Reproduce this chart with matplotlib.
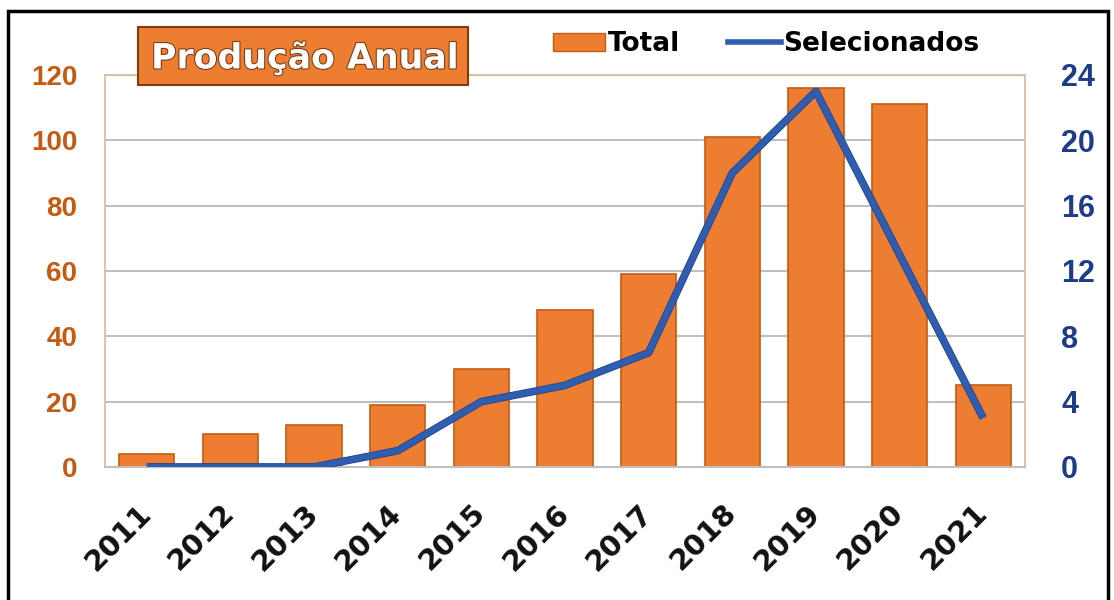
import matplotlib.pyplot as plt
import matplotlib.patheffects as pe
from matplotlib.patches import Patch, Rectangle
from matplotlib.lines import Line2D
import numpy as np

# annual production data
anos = ["2011", "2012", "2013", "2014", "2015", "2016", "2017", "2018", "2019", "2020", "2021"]
total = [4, 10, 13, 19, 30, 48, 59, 101, 116, 111, 25]
selecionados = [0, 0, 0, 1, 4, 5, 7, 18, 23, 13, 3]

laranja = "#ED7D31"
laranja_borda = "#C55A11"
azul = "#2F5DB0"
azul_escuro = "#1F3C88"

fig = plt.figure(figsize=(11.14, 6.0), dpi=100)
ax = fig.add_axes([105 / 1114, 1 - 467 / 600, 920 / 1114, 392 / 600])

x = np.arange(len(anos))
ax.bar(x, total, width=0.66, color=laranja, edgecolor=laranja_borda, linewidth=1.2, zorder=2)
ax.set_xlim(-0.5, len(anos) - 0.5)
ax.set_ylim(0, 120)
ax.set_yticks(range(0, 121, 20))
ax.yaxis.grid(True, color="#BFBFBF", linewidth=1.5, zorder=0)
ax.set_axisbelow(True)
ax.tick_params(axis="y", length=0, pad=20, labelsize=20, labelcolor=laranja_borda)
ax.tick_params(axis="x", length=0, pad=30)
for lbl in ax.get_yticklabels():
    lbl.set_fontweight("bold")
    lbl.set_fontfamily("Liberation Sans")
ax.set_xticks(x)
ax.set_xticklabels(anos, rotation=45, ha="right", va="center", rotation_mode="anchor",
                   fontsize=21, fontweight="heavy", family="DejaVu Sans", color="#111111")
for side in ["left", "right", "top"]:
    ax.spines[side].set_color("#D9B99B")
    ax.spines[side].set_linewidth(1.2)
ax.spines["bottom"].set_color("#BFBFBF")
ax.spines["bottom"].set_linewidth(1.5)

# secondary axis for selected items
ax2 = ax.twinx()
ax2.plot(x, selecionados, color=azul, linewidth=4.5, solid_capstyle="butt", zorder=3,
         path_effects=[pe.Stroke(linewidth=5.5, foreground=azul_escuro), pe.Normal()])
ax2.set_ylim(0, 24)
ax2.set_yticks(range(0, 25, 4))
ax2.tick_params(axis="y", length=0, pad=26, labelsize=22, labelcolor=azul_escuro)
for lbl in ax2.get_yticklabels():
    lbl.set_fontweight("bold")
    lbl.set_fontfamily("Liberation Sans")
for side in ax2.spines:
    ax2.spines[side].set_visible(False)

# title box
fig.patches.append(Rectangle((138 / 1114, 1 - 85 / 600), 330 / 1114, 58 / 600,
                             transform=fig.transFigure, facecolor=laranja,
                             edgecolor="#843C0C", linewidth=1.5, zorder=5))
fig.text(305 / 1114, 1 - 58 / 600, "Produção Anual", ha="center", va="center",
         fontsize=25, fontweight="bold", color="white", family="DejaVu Sans", zorder=6,
         path_effects=[pe.withStroke(linewidth=1.5, foreground="#7A3A10")])

# legend
handles = [Patch(facecolor=laranja, edgecolor=laranja_borda, label="Total"),
           Line2D([0], [0], color=azul, linewidth=4, label="Selecionados")]
fig.legend(handles=handles, loc="center", bbox_to_anchor=(766 / 1114, 1 - 44 / 600),
           ncol=2, frameon=False, handlelength=2.0, handletextpad=0.1, columnspacing=1.8,
           prop={"family": "DejaVu Sans", "weight": "bold", "size": 19})

# outer frame
fig.patches.append(Rectangle((8 / 1114, -0.05), 1100 / 1114, 1.05 - 11 / 600,
                             transform=fig.transFigure, fill=False,
                             edgecolor="black", linewidth=2.5, zorder=10))

fig.savefig("out.png", dpi=100)
